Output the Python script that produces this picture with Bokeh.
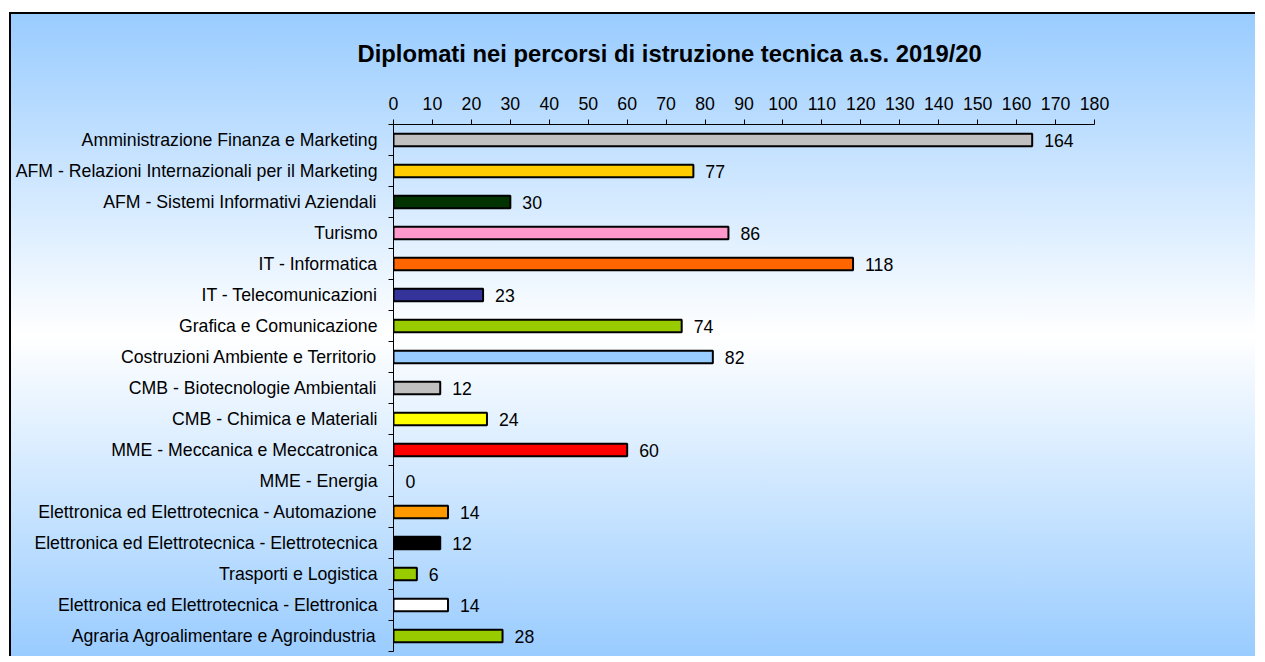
from bokeh.plotting import figure
from bokeh.models import ColumnDataSource, Range1d, FixedTicker
from bokeh.embed import file_html
from bokeh.resources import INLINE
from bokeh.core.properties import value

title_text = "Diplomati nei percorsi di istruzione tecnica a.s. 2019/20"

categories = [
    "Amministrazione Finanza e Marketing",
    "AFM - Relazioni Internazionali per il Marketing",
    "AFM - Sistemi Informativi Aziendali",
    "Turismo",
    "IT - Informatica",
    "IT - Telecomunicazioni",
    "Grafica e Comunicazione",
    "Costruzioni Ambiente e Territorio",
    "CMB - Biotecnologie Ambientali",
    "CMB - Chimica e Materiali",
    "MME - Meccanica e Meccatronica",
    "MME - Energia",
    "Elettronica ed Elettrotecnica - Automazione",
    "Elettronica ed Elettrotecnica - Elettrotecnica",
    "Trasporti e Logistica",
    "Elettronica ed Elettrotecnica - Elettronica",
    "Agraria Agroalimentare e Agroindustria",
]

values = [164, 77, 30, 86, 118, 23, 74, 82, 12, 24, 60, 0, 14, 12, 6, 14, 28]

bar_colors = [
    "#C0C0C0", "#FFCC00", "#003300", "#FF99CC", "#FF6600", "#333399",
    "#99CC00", "#99CCFF", "#C0C0C0", "#FFFF00", "#FF0000", "#FF9900",
    "#FF9900", "#000000", "#99CC00", "#FFFFFF", "#99CC00",
]

x_ticks = list(range(0, 181, 10))

n = len(categories)
idx = list(range(n))
boundaries = [i - 0.5 for i in range(n + 1)]

src = ColumnDataSource(dict(
    y=idx,
    v=values,
    c=bar_colors,
    la=[1.0 if v > 0 else 0.0 for v in values],
    lbl=[str(v) for v in values],
))

FONT = "Liberation Sans"
FS = "17.7px"

p = figure(
    width=1246, height=644,
    output_backend="svg", toolbar_location=None,
    x_range=Range1d(0, 180), y_range=Range1d(n - 0.5, -0.5),
    x_axis_location="above",
    min_border_left=382, min_border_right=163,
    min_border_top=110, min_border_bottom=7,
    title=title_text,
)
p.title.align = "left"
p.title.vertical_align = "top"
p.title.offset = -36
p.title.standoff = 50
p.title.text_font = FONT
p.title.text_font_style = "bold"
p.title.text_font_size = "23.8px"
p.title.text_color = "black"

p.background_fill_color = None
p.border_fill_color = None
p.outline_line_color = None
p.xgrid.visible = False
p.ygrid.visible = False

p.styles = {
    "margin-left": "9px",
    "margin-top": "12px",
    "border-left": "2px solid black",
    "border-top": "2px solid black",
    "background": "linear-gradient(to bottom, #99ccff 0%, #ffffff 50%, #99ccff 100%)",
}

p.hbar(y="y", left=0, right="v", height=0.41, source=src,
       fill_color="c", line_color="black", line_width=2, line_alpha="la")

p.text(x="v", y="y", text="lbl", source=src, x_offset=12,
       text_align="left", text_baseline="middle",
       text_font=value(FONT), text_font_size=FS,
       text_color="black")

xa = p.xaxis[0]
xa.ticker = FixedTicker(ticks=x_ticks, minor_ticks=[])
xa.major_tick_out = 5
xa.major_tick_in = 0
xa.minor_tick_out = 0
xa.minor_tick_in = 0
xa.major_label_standoff = 10
xa.major_label_text_font = FONT
xa.major_label_text_font_size = FS
xa.major_label_text_color = "black"
xa.axis_line_color = "black"
xa.major_tick_line_color = "black"

ya = p.yaxis[0]
ya.ticker = FixedTicker(ticks=idx, minor_ticks=boundaries)
ya.major_tick_out = 0
ya.major_tick_in = 0
ya.minor_tick_out = 5
ya.minor_tick_in = 0
ya.major_label_standoff = 11
ya.major_label_overrides = {i: c for i, c in zip(idx, categories)}
ya.major_label_text_font = FONT
ya.major_label_text_font_size = FS
ya.major_label_text_color = "black"
ya.axis_line_color = "black"
ya.minor_tick_line_color = "black"

open("out.html", "w").write(file_html(p, INLINE))
